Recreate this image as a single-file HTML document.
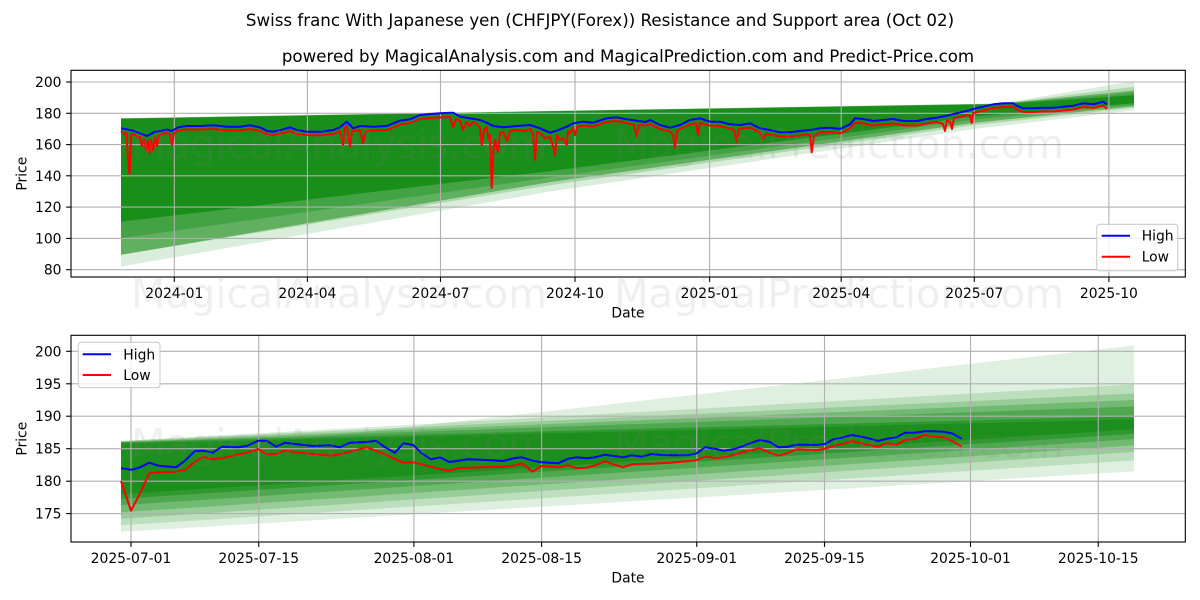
<!DOCTYPE html>
<html><head><meta charset="utf-8"><style>html,body{margin:0;padding:0;background:#fff}svg{display:block}text{font-family:"DejaVu Sans","Liberation Sans",sans-serif}</style></head><body>
<svg width="1200" height="600" viewBox="0 0 1200 600" xmlns="http://www.w3.org/2000/svg">
<rect width="1200" height="600" fill="#fff"/>
<defs>
<clipPath id="c1"><rect x="71" y="70.3" width="1114.3" height="206.7"/></clipPath>
<clipPath id="c2"><rect x="71" y="335.3" width="1114.3" height="206.7"/></clipPath>
</defs>
<text x="600" y="26" font-size="16.67" text-anchor="middle">Swiss franc With Japanese yen (CHFJPY(Forex)) Resistance and Support area (Oct 02)</text>
<text x="628" y="62" font-size="16.67" text-anchor="middle">powered by MagicalAnalysis.com and MagicalPrediction.com and Predict-Price.com</text>

<!-- TOP AXES -->
<g clip-path="url(#c1)" fill="#008000">
<polygon fill-opacity="0.14" points="121,118.3 550,110.9 1000,103.4 1134,81.1 1134,110.2 975,128.9 550,191.5 121,266.6"/>
<polygon fill-opacity="0.2" points="121,118.3 550,110.9 1000,103.6 1134,86.7 1134,107.8 975,125 550,185.2 121,254.8"/>
<polygon fill-opacity="0.45" points="121,118.4 550,111.1 1000,103.7 1134,90.6 1134,106.2 975,122.7 550,182.1 121,254.8"/>
<polygon fill-opacity="0.3" points="121,118.6 550,111.2 1000,103.9 1134,92.9 1134,104.7 975,119.5 550,177.4 121,238.4"/>
<polygon fill-opacity="0.6" points="121,118.8 550,111.4 1000,104.2 1134,95.3 1134,103.1 975,116.4 550,171.1 121,221.7"/>
</g>
<g stroke="#b0b0b0" stroke-width="1.1">
<line x1="174.3" y1="70.3" x2="174.3" y2="277"/><line x1="307.4" y1="70.3" x2="307.4" y2="277"/><line x1="440.5" y1="70.3" x2="440.5" y2="277"/><line x1="575" y1="70.3" x2="575" y2="277"/><line x1="709.6" y1="70.3" x2="709.6" y2="277"/><line x1="841.2" y1="70.3" x2="841.2" y2="277"/><line x1="974.3" y1="70.3" x2="974.3" y2="277"/><line x1="1108.9" y1="70.3" x2="1108.9" y2="277"/>
<line x1="71" y1="82" x2="1185.3" y2="82"/><line x1="71" y1="113.3" x2="1185.3" y2="113.3"/><line x1="71" y1="144.6" x2="1185.3" y2="144.6"/><line x1="71" y1="175.8" x2="1185.3" y2="175.8"/><line x1="71" y1="207.1" x2="1185.3" y2="207.1"/><line x1="71" y1="238.4" x2="1185.3" y2="238.4"/><line x1="71" y1="269.7" x2="1185.3" y2="269.7"/>
</g>
<g clip-path="url(#c1)" fill="none" stroke-width="2" stroke-linejoin="round">
<polyline stroke="#0000ff" points="121,128.3 126.7,129.3 133.3,130.7 140,133.3 146.7,136 150,134.3 155,131.7 161.7,130.7 166.7,129.3 171.7,131 178.3,127.3 186.7,126 200,126 213.3,125.3 226.7,126.7 240,126.7 250,125.3 260,127.3 266.7,130.7 273.3,131.7 283.3,129.3 290,127.3 296.7,130 306.7,131.7 320,131.7 333.3,130 340,127.3 346.7,121.7 350,125 353.3,128.3 360,126 373.3,126.7 386.7,126 393.3,123.3 400,120.7 410,119.3 420,115 430,114 440,113.3 450,112.7 453.3,112.7 460,116.7 470,118.3 480,120 486.7,122.7 493.3,126 503.3,127.3 516.7,126 530,125 540,128.3 550,132.7 556.7,130.7 566.7,126.7 573.3,123.3 583.3,121.7 593.3,122.7 606.7,118.3 616.7,117.3 626.7,119.3 636.7,120.7 646,122 650,120 660,125 670,127.7 680,125 690,120 700,118.3 710,121.7 720,121.7 730,124.3 740,125 750,123.3 760,128.3 770,130 780,132.3 790,132.3 800,131 810,130 820,128.3 830,127.7 840,129 850,124.3 855,118.3 863.3,119 873.3,121 883.3,120 893.3,119 903.3,121 916.7,121 926.7,119 936.7,117.7 946.7,115.7 956.7,113.3 966.7,111 973.3,109 983.3,106.7 993.3,104.3 1003.3,103.3 1013.3,103.3 1016.7,105.7 1023.3,108.3 1033.3,108.3 1043.3,107.7 1053.3,107.7 1063.3,106.7 1073.3,105.7 1083.3,103.3 1093.3,104.3 1103.3,101.7 1106.7,104.3"/>
<polyline stroke="#ff0000" points="121,131 124,134 126.5,133 128,160 129.5,174 131,135 134,134 137,137 140,137 142,146 144,139 146,150 148,141 149.5,153 151,140 153,150 155,137 157,146 159,135 162,134 166,133 170,134 172,145 174,133 178.3,130.5 186.7,129.5 200,129.5 213.3,129 226.7,130.5 240,130.5 250,129 260,131 266.7,134 273.3,135 283.3,133 290,131 296.7,134 306.7,135 320,135.5 333.3,134 340,131 343,145 345,127 347,126 350,146.7 352,131 356,131 360,130 363,143 366,131 373.3,130.5 386.7,130 393.3,127.5 400,124.5 410,123 420,119 430,118 440,117.5 450,117 453,127 456,119 460,121 463,130 466.7,122 470,126 473,122 476.7,124 480,128 481.7,145 484,130 486.7,127 488.5,140 490,135 491.7,188 493.3,152 495,140 498,152 500,133 503.3,132 507,141 510,131 516.7,130 525,131 530,129 533,134 535,160 537,132 540,133 545,138 550,137 553,146 555,155 557,135 560,140 563,138 566.7,145 568,131 570,133 573,128 575,135 577,127 583.3,125.5 593.3,126.5 606.7,122 616.7,121 626.7,123 634,125 636.7,136.7 639,125 646,125.5 650,124 660,129 670,131.5 673,135 675,148 677,131 680,129 690,124.5 696,123 698,135 700,123 710,125.5 720,126 730,128.5 734,130 736.7,141.7 739,129 750,127.5 760,132.5 763,139 766,134 770,134.5 780,136.5 790,136.5 800,135.5 805,134.5 810,135 811.7,152.3 814,136 820,132.5 830,132 840,133.5 850,128.5 855,122.5 863.3,123.5 873.3,125.5 883.3,124.5 893.3,123.5 903.3,125.5 916.7,125.5 926.7,123.5 936.7,122 943,124 945,131 947,120.5 950,122 952,129 954,118 960,117 966.7,115 970,116 971.7,123 973.3,113 983.3,110.5 993.3,108 1003.3,107 1013.3,107 1016.7,109.5 1023.3,112 1033.3,112 1043.3,111.5 1053.3,111.5 1063.3,110.5 1073.3,109.5 1083.3,107 1093.3,108 1103.3,105.5 1107,109"/>
</g>
<rect x="71" y="70.3" width="1114.3" height="206.7" fill="none" stroke="#000" stroke-width="1.1"/>
<g stroke="#000" stroke-width="1.1">
<line x1="174.3" y1="277" x2="174.3" y2="281.9"/><line x1="307.4" y1="277" x2="307.4" y2="281.9"/><line x1="440.5" y1="277" x2="440.5" y2="281.9"/><line x1="575" y1="277" x2="575" y2="281.9"/><line x1="709.6" y1="277" x2="709.6" y2="281.9"/><line x1="841.2" y1="277" x2="841.2" y2="281.9"/><line x1="974.3" y1="277" x2="974.3" y2="281.9"/><line x1="1108.9" y1="277" x2="1108.9" y2="281.9"/>
<line x1="66.1" y1="82" x2="71" y2="82"/><line x1="66.1" y1="113.3" x2="71" y2="113.3"/><line x1="66.1" y1="144.6" x2="71" y2="144.6"/><line x1="66.1" y1="175.8" x2="71" y2="175.8"/><line x1="66.1" y1="207.1" x2="71" y2="207.1"/><line x1="66.1" y1="238.4" x2="71" y2="238.4"/><line x1="66.1" y1="269.7" x2="71" y2="269.7"/>
</g>
<g font-size="13.89" text-anchor="middle">
<text x="174.3" y="298">2024-01</text><text x="307.4" y="298">2024-04</text><text x="440.5" y="298">2024-07</text><text x="575" y="298">2024-10</text><text x="709.6" y="298">2025-01</text><text x="841.2" y="298">2025-04</text><text x="974.3" y="298">2025-07</text><text x="1108.9" y="298">2025-10</text>
<text x="628" y="317.5">Date</text>
<text transform="translate(26.5,173.7) rotate(-90)" x="0" y="0">Price</text>
</g>
<g font-size="13.89" text-anchor="end">
<text x="61.5" y="87">200</text><text x="61.5" y="118.3">180</text><text x="61.5" y="149.6">160</text><text x="61.5" y="180.8">140</text><text x="61.5" y="212.1">120</text><text x="61.5" y="243.4">100</text><text x="61.5" y="274.7">80</text>
</g>
<rect x="1096.7" y="224.3" width="81" height="46.4" rx="2.8" fill="#fff" fill-opacity="0.8" stroke="#cccccc" stroke-width="1.1"/>
<line x1="1101.7" y1="235.7" x2="1130" y2="235.7" stroke="#0000ff" stroke-width="2"/>
<line x1="1101.7" y1="256.7" x2="1130" y2="256.7" stroke="#ff0000" stroke-width="2"/>
<text x="1141.7" y="240.7" font-size="13.89">High</text>
<text x="1141.7" y="261.7" font-size="13.89">Low</text>

<!-- BOTTOM AXES -->
<g clip-path="url(#c2)" fill="#008000">
<polygon fill-opacity="0.12" points="121,459.1 1134,345.5 1134,471.4 121,531.8"/>
<polygon fill-opacity="0.15" points="121,440.9 1134,384.4 1134,460.4 121,525.3"/>
<polygon fill-opacity="0.2" points="121,440.9 1134,393.5 1134,451.9 121,518.8"/>
<polygon fill-opacity="0.25" points="121,441.6 1134,400 1134,445.4 121,512.3"/>
<polygon fill-opacity="0.3" points="121,442.2 1134,406.5 1134,439 121,505.2"/>
<polygon fill-opacity="0.4" points="121,442.2 1134,416.2 1134,433.8 121,498.7"/>
<polygon fill-opacity="0.4" points="121,443.5 1134,419.5 1134,429.2 121,494.1"/>
</g>
<g stroke="#b0b0b0" stroke-width="1.1">
<line x1="131" y1="335.3" x2="131" y2="542"/><line x1="258.75" y1="335.3" x2="258.75" y2="542"/><line x1="413.9" y1="335.3" x2="413.9" y2="542"/><line x1="541.6" y1="335.3" x2="541.6" y2="542"/><line x1="696.75" y1="335.3" x2="696.75" y2="542"/><line x1="824.5" y1="335.3" x2="824.5" y2="542"/><line x1="970.5" y1="335.3" x2="970.5" y2="542"/><line x1="1098.25" y1="335.3" x2="1098.25" y2="542"/>
<line x1="71" y1="351.3" x2="1185.3" y2="351.3"/><line x1="71" y1="383.8" x2="1185.3" y2="383.8"/><line x1="71" y1="416.2" x2="1185.3" y2="416.2"/><line x1="71" y1="448.7" x2="1185.3" y2="448.7"/><line x1="71" y1="481.2" x2="1185.3" y2="481.2"/><line x1="71" y1="513.6" x2="1185.3" y2="513.6"/>
</g>
<g clip-path="url(#c2)" fill="none" stroke-width="2" stroke-linejoin="round">
<polyline stroke="#0000ff" points="121,468.3 131.7,469.7 139.3,467.7 149.3,462.7 158.3,465.7 176,467.3 185,460.7 195,451 203.3,450.7 212.7,452.7 221.7,446.7 238.3,447.3 246.7,446 258.3,440.7 266.7,440.7 276,446.7 285,442.7 295,444 313.3,446 330,445.3 340,447.3 350,442.7 366.7,442 376,440.7 385,447.3 395,452.7 403.3,443.3 413.3,445 421.7,453.3 431,459.3 440,457.3 449.3,462 458.3,460.7 468.3,459.3 486.7,460 503.3,461 513.3,458.3 521.7,457.3 532.7,460.7 541.7,462.3 550,462.7 558.3,463.3 568.3,458.7 576.7,457.3 586.7,458.3 595,457.3 605,454.7 613.3,456 623.3,457.3 631.7,455.3 641.7,456.7 651.7,454 660,455 670,455.3 686.7,455.3 696.7,453.3 705,447.3 715,448.7 723.3,450.7 733.3,449.3 743.3,446 751.7,442.7 760,440 770,442 778.3,447.3 788.3,446.7 796.7,444.7 806.7,444.7 816.7,445 825,444 833.3,439.3 843.3,437.3 851.7,435 861.7,436.7 870,438.7 878.3,441 886.7,438.7 896.7,437.3 905,432.7 915,432.7 925,431.3 933.3,431.3 943.3,431.7 951.7,433.3 961.7,438.7"/>
<polyline stroke="#ff0000" points="121,481 131,510.7 140,493.3 149.3,473.3 158.3,472.3 176,471.7 185,470 195,461.7 203.3,456.7 212.7,459.3 221.7,458.3 238.3,454.3 246.7,452.7 258.3,449 266.7,454.3 276,454 285,450.3 295,452.3 313.3,454 330,455.7 340,454.3 350,451.7 366.7,447.3 376,450.7 385,454.3 395,459 403.3,462.7 413.3,462.3 421.7,464.3 431,466.7 440,469 449.3,471 458.3,468 468.3,467.7 486.7,467 503.3,466.7 513.3,465.7 521.7,463.3 532.7,471.7 541.7,466 550,466.7 558.3,467.3 568.3,465.3 576.7,468.3 586.7,467.7 595,465.3 605,461.3 613.3,464.3 623.3,467.3 631.7,464.3 641.7,463.7 651.7,463.7 660,463.3 670,462.7 686.7,461.3 696.7,460 705,456.7 715,458 723.3,457.3 733.3,455 743.3,452 751.7,450 760,448.3 770,452.7 778.3,455.7 788.3,452.7 796.7,449.3 806.7,449.7 816.7,450 825,448.7 833.3,446 843.3,443.7 851.7,441 861.7,443.3 870,445.3 878.3,446.7 886.7,443.3 896.7,444.7 905,440 915,438.7 925,435 933.3,436.7 943.3,437.3 951.7,440.7 961.7,446.7"/>
</g>
<rect x="71" y="335.3" width="1114.3" height="206.7" fill="none" stroke="#000" stroke-width="1.1"/>
<g stroke="#000" stroke-width="1.1">
<line x1="131" y1="542" x2="131" y2="546.9"/><line x1="258.75" y1="542" x2="258.75" y2="546.9"/><line x1="413.9" y1="542" x2="413.9" y2="546.9"/><line x1="541.6" y1="542" x2="541.6" y2="546.9"/><line x1="696.75" y1="542" x2="696.75" y2="546.9"/><line x1="824.5" y1="542" x2="824.5" y2="546.9"/><line x1="970.5" y1="542" x2="970.5" y2="546.9"/><line x1="1098.25" y1="542" x2="1098.25" y2="546.9"/>
<line x1="66.1" y1="351.3" x2="71" y2="351.3"/><line x1="66.1" y1="383.8" x2="71" y2="383.8"/><line x1="66.1" y1="416.2" x2="71" y2="416.2"/><line x1="66.1" y1="448.7" x2="71" y2="448.7"/><line x1="66.1" y1="481.2" x2="71" y2="481.2"/><line x1="66.1" y1="513.6" x2="71" y2="513.6"/>
</g>
<g font-size="13.89" text-anchor="middle">
<text x="131" y="563">2025-07-01</text><text x="258.75" y="563">2025-07-15</text><text x="413.9" y="563">2025-08-01</text><text x="541.6" y="563">2025-08-15</text><text x="696.75" y="563">2025-09-01</text><text x="824.5" y="563">2025-09-15</text><text x="970.5" y="563">2025-10-01</text><text x="1098.25" y="563">2025-10-15</text>
<text x="628" y="582.5">Date</text>
<text transform="translate(26.5,438.7) rotate(-90)" x="0" y="0">Price</text>
</g>
<g font-size="13.89" text-anchor="end">
<text x="61.5" y="356.3">200</text><text x="61.5" y="388.8">195</text><text x="61.5" y="421.2">190</text><text x="61.5" y="453.7">185</text><text x="61.5" y="486.2">180</text><text x="61.5" y="518.6">175</text>
</g>
<rect x="78.3" y="342.3" width="81.7" height="45.4" rx="2.8" fill="#fff" fill-opacity="0.8" stroke="#cccccc" stroke-width="1.1"/>
<line x1="82.7" y1="354.3" x2="111" y2="354.3" stroke="#0000ff" stroke-width="2"/>
<line x1="82.7" y1="375" x2="111" y2="375" stroke="#ff0000" stroke-width="2"/>
<text x="123.3" y="359.3" font-size="13.89">High</text>
<text x="123.3" y="380" font-size="13.89">Low</text>

<!-- WATERMARKS -->
<g font-size="40" fill="#808080" fill-opacity="0.13" text-anchor="middle">
<text x="339" y="158">MagicalAnalysis.com</text>
<text x="839" y="158">MagicalPrediction.com</text>
<text x="339" y="307.5">MagicalAnalysis.com</text>
<text x="839" y="307.5">MagicalPrediction.com</text>
<text x="339" y="457.5">MagicalAnalysis.com</text>
<text x="839" y="457.5">MagicalPrediction.com</text>
</g>
</svg>
</body></html>
